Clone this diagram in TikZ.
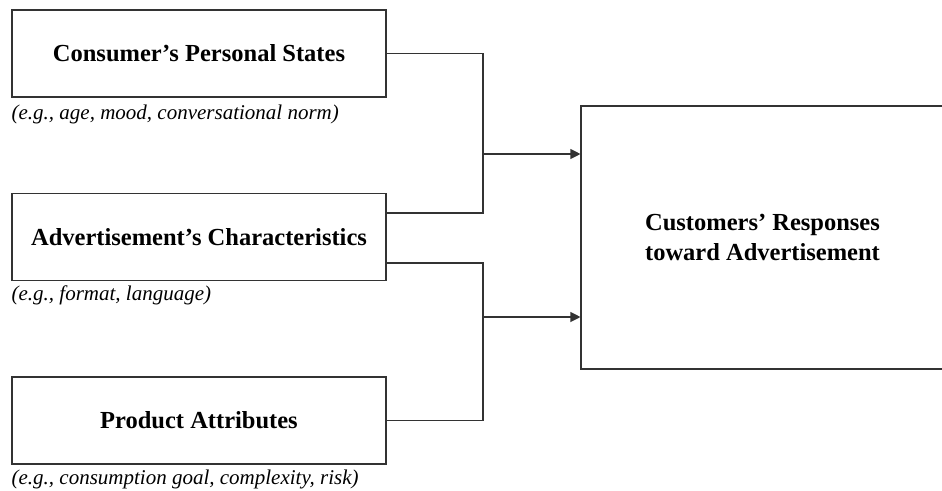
\documentclass[tikz,border=0pt]{standalone}
\usepackage{fontspec}
\setmainfont{Liberation Serif}
\usetikzlibrary{arrows.meta,positioning}
\tikzset{
	factor/.style={draw=black!80, line width=1.1pt, minimum width=374pt, minimum height=87pt, inner sep=0pt, font=\fontsize{24.5}{30}\selectfont\bfseries},
	note/.style={anchor=base west, inner sep=0pt, font=\fontsize{21}{25}\selectfont\itshape},
	link/.style={draw=black!80, line width=1.1pt},
	into/.style={link, -{Triangle[length=10pt,width=10pt]}}
}
\begin{document}
\begin{tikzpicture}[x=1pt, y=-1pt]
				\useasboundingbox (0,0) rectangle (942,490);
				%factors
				\node[factor] (cps) at (199, 53.5) {Consumer’s Personal States};
				\node[factor] (adc) at (199, 237) {Advertisement’s Characteristics};
				\node[factor] (pat) at (199, 420.5) {Product Attributes};
				\node[note] (cpsnote) at ([yshift=-22pt]cps.south west) {(e.g., age, mood, conversational norm)};
				\node[note] (adcnote) at ([yshift=-19pt]adc.south west) {(e.g., format, language)};
				\node[note] (patnote) at ([yshift=-20pt]pat.south west) {(e.g., consumption goal, complexity, risk)};
				%outcome
				\node[factor, minimum width=363pt, minimum height=263pt, align=center] (crt) at (762.5, 237.5) {Customers’ Responses\\ toward Advertisement};
				%joints
				\coordinate (j1) at (483, 154);
				\coordinate (j2) at (483, 317);
				\draw[link] (cps.east) -| (j1) |- ([yshift=24pt]adc.east);
				\draw[link] ([yshift=-26pt]adc.east) -| (j2) |- (pat.east);
				\draw[into] (j1) -- (crt.west |- j1);
				\draw[into] (j2) -- (crt.west |- j2);
			\end{tikzpicture}
\end{document}
